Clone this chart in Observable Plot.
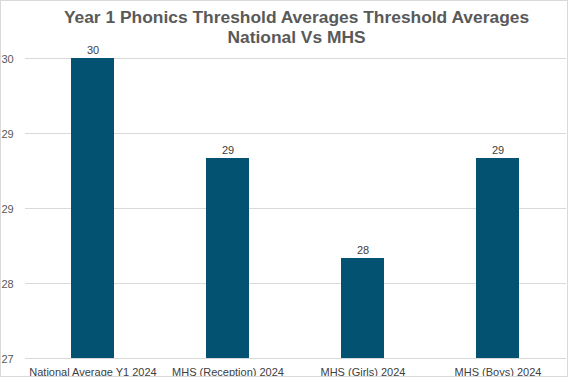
<!DOCTYPE html>
<html>
<head>
<meta charset="utf-8">
<script src="https://cdn.jsdelivr.net/npm/d3@7"></script>
<script src="https://cdn.jsdelivr.net/npm/@observablehq/plot@0.6"></script>
<style>
  html, body { margin: 0; padding: 0; background: #fff; }
  #wrap { position: relative; width: 568px; height: 377px; overflow: hidden; font-family: "Liberation Sans", Arial, Helvetica, sans-serif; }
  #title { box-sizing: border-box; width: 568px; height: 47px; padding: 7px 0 0 25px; text-align: center; font-weight: bold; font-size: 17.4px; line-height: 20px; color: #595959; }
  #frame { position: absolute; left: 0; top: 0; right: 0; bottom: 0; border: 1px solid #d9d9d9; pointer-events: none; box-sizing: border-box; }
  svg { display: block; overflow: visible; }
</style>
</head>
<body>
<div id="wrap">
  <div id="title">Year 1 Phonics Threshold Averages Threshold Averages<br>National Vs MHS</div>
  <div id="chart"></div>
  <div id="frame"></div>
</div>
<script>
const categories = ["National Average Y1 2024", "MHS (Reception) 2024", "MHS (Girls) 2024", "MHS (Boys) 2024"];
const values = [29.8, 29.0, 28.2, 29.0];
const yTicks = [27.4, 28.0, 28.6, 29.2, 29.8];

const data = categories.map((c, i) => ({category: c, value: values[i]}));
const fmt = d3.format(".0f");

const chart = Plot.plot({
  width: 568,
  height: 330,
  marginTop: 11,
  marginBottom: 19,
  marginLeft: 25,
  marginRight: 2,
  style: {fontFamily: '"Liberation Sans", Arial, Helvetica, sans-serif', fontSize: "11px", color: "#595959", background: "#fff", overflow: "visible"},
  x: {domain: categories, paddingInner: 0.68, paddingOuter: 0.34, label: null},
  y: {domain: [27.4, 29.8], label: null},
  marks: [
    Plot.gridY(yTicks, {stroke: "#d9d9d9", strokeOpacity: 1}),
    Plot.barY(data, {x: "category", y1: 27.4, y2: "value", fill: "#045272"}),
    Plot.text(data, {x: "category", y: "value", text: d => fmt(d.value), dy: -8, fill: "#404040", fontSize: 11}),
    Plot.axisY(yTicks, {tickSize: 0, tickPadding: 0, textAnchor: "start", dx: -24, dy: 1, tickFormat: fmt, fill: "#595959", fontSize: 11, label: null}),
    Plot.axisX({tickSize: 0, tickPadding: 10, fill: "#404040", fontSize: 11, label: null})
  ]
});
document.getElementById("chart").appendChild(chart);
</script>
</body>
</html>
